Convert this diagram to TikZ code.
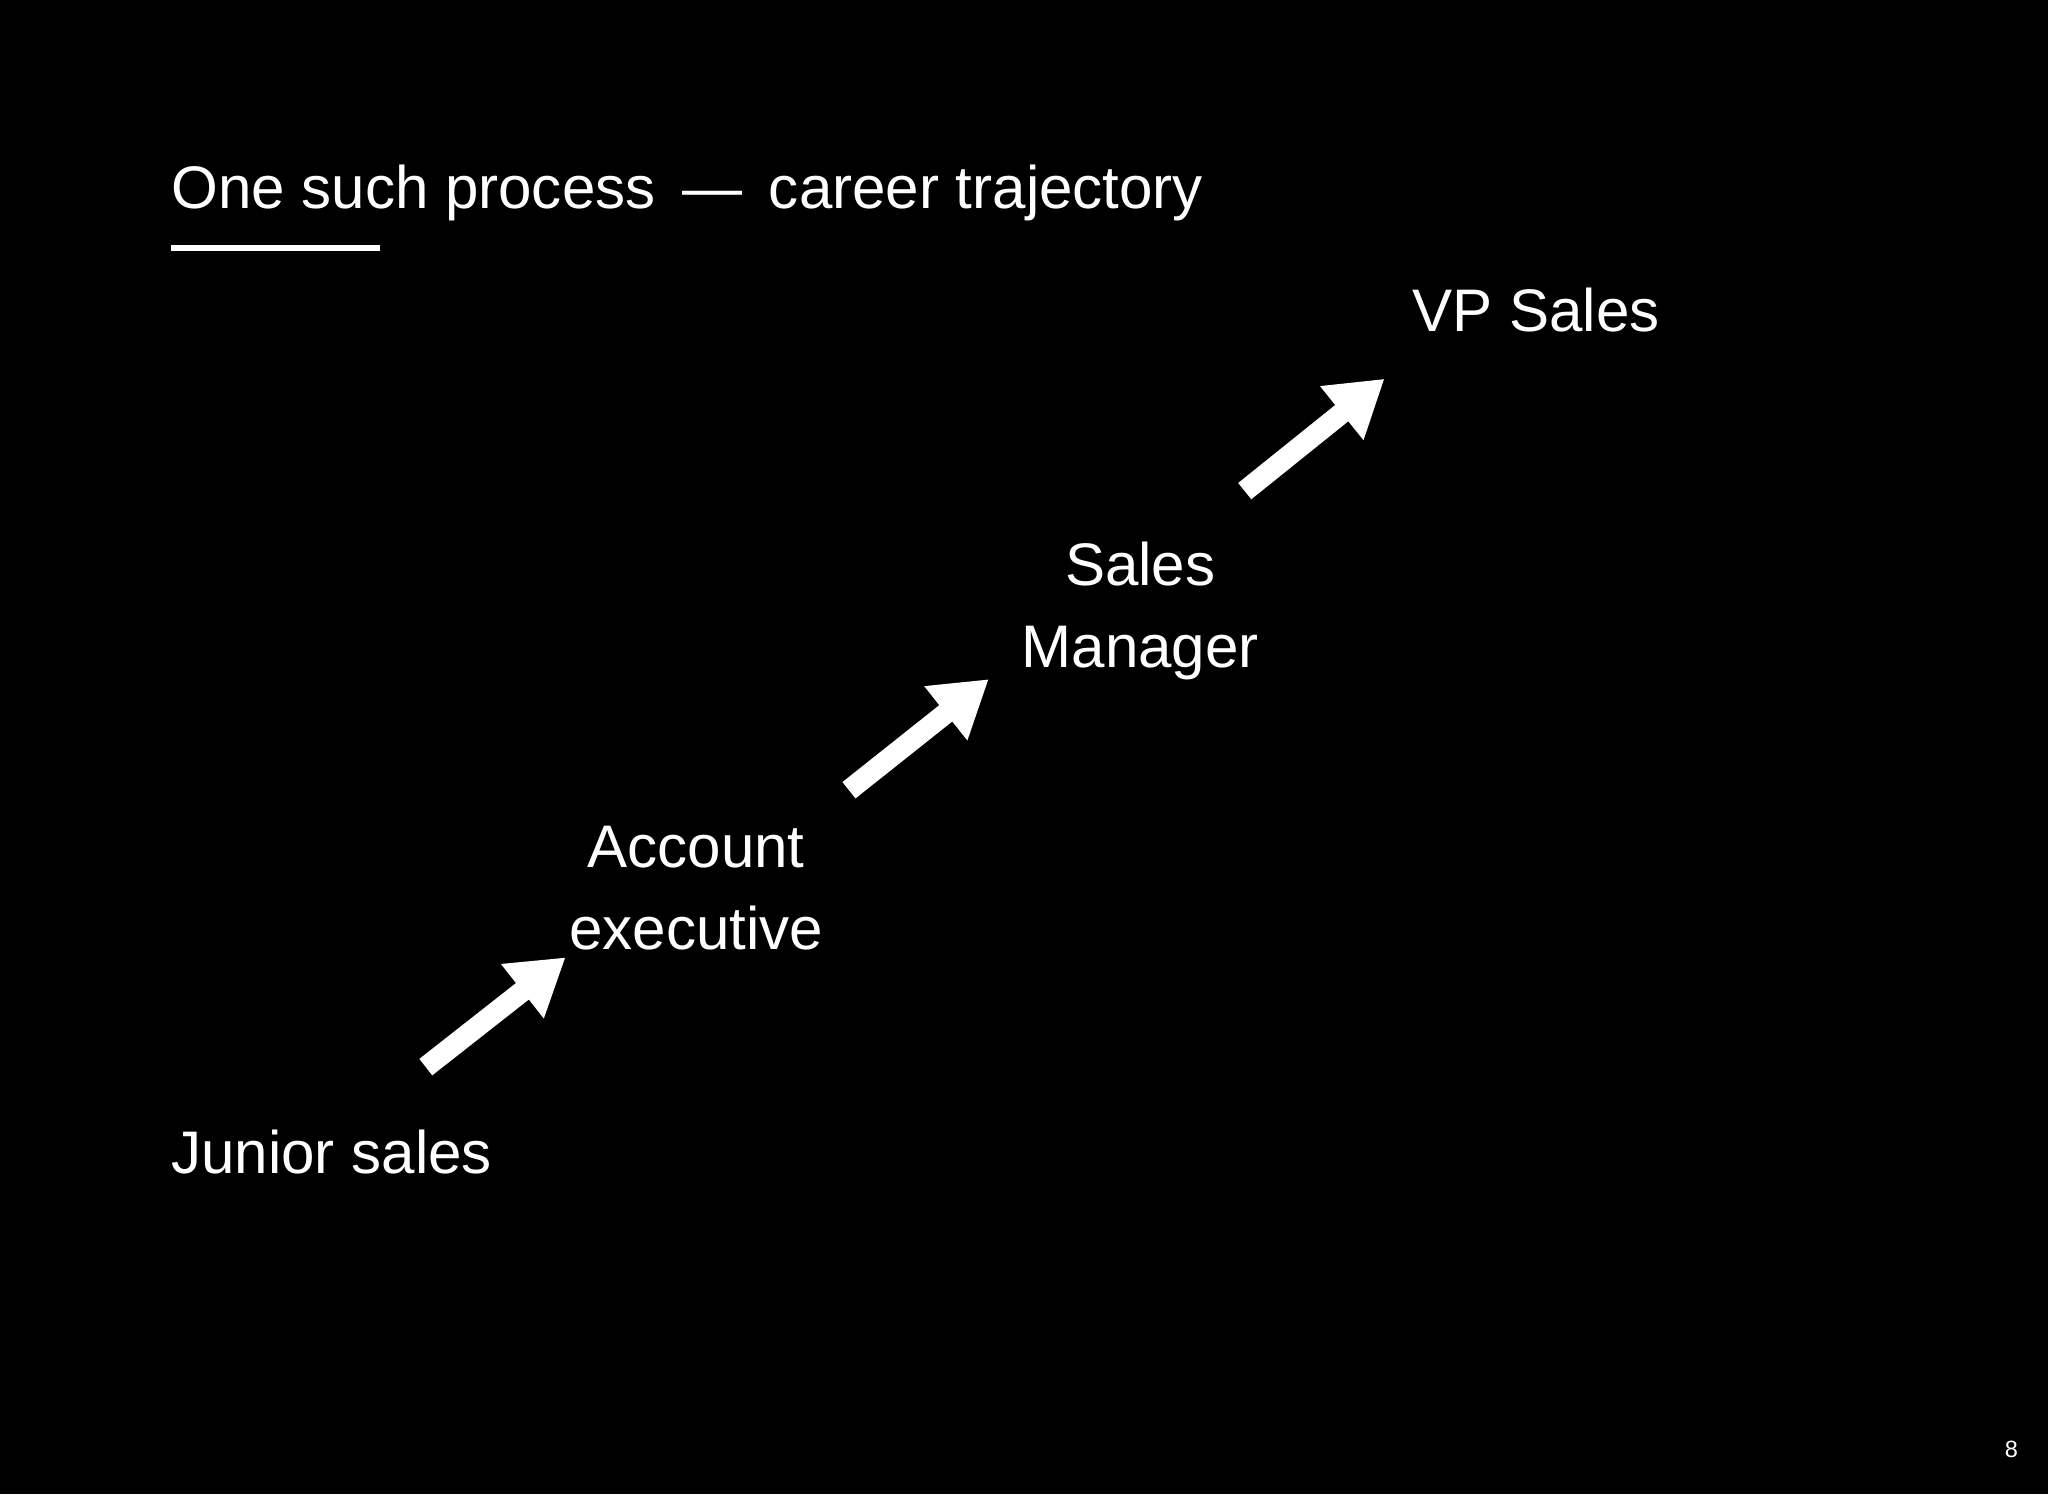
\documentclass[tikz,border=0pt]{standalone}
\usepackage{fontspec}
\setmainfont{Liberation Sans}
\usetikzlibrary{arrows.meta}
\begin{document}
\begin{tikzpicture}[x=1pt,y=-1pt,
  lbl/.style={text=white,font=\fontsize{46}{63}\selectfont,inner sep=0pt,align=center},
  bigarrow/.style={draw=white,line width=16pt,-{Triangle[width=50pt,length=42pt]}}]
\fill[black] (0,0) rectangle (1568,1144);
\useasboundingbox (0,0) rectangle (1568,1144);
\node[lbl,anchor=west] (title) at (131,148) {One such process \,—\, career trajectory};
\draw[white,line width=5pt] (131,190) -- (291,190);
\node[lbl,anchor=west] (jr) at (131,882) {Junior sales};
\node[lbl] (ae) at (533,680) {Account\\executive};
\node[lbl] (sm) at (873,468) {Sales\\Manager};
\node[lbl] (vp) at (1176,237) {VP Sales};
\node[text=white,font=\fontsize{18}{20}\selectfont,inner sep=0pt] (pg) at (1540,1110) {8};
\coordinate (a1) at (326,817); \coordinate (b1) at (433,733);
\coordinate (a2) at (650,605); \coordinate (b2) at (757,520);
\coordinate (a3) at (953,376); \coordinate (b3) at (1060,290);
\draw[bigarrow] (a1) -- (b1);
\draw[bigarrow] (a2) -- (b2);
\draw[bigarrow] (a3) -- (b3);
\end{tikzpicture}
\end{document}
